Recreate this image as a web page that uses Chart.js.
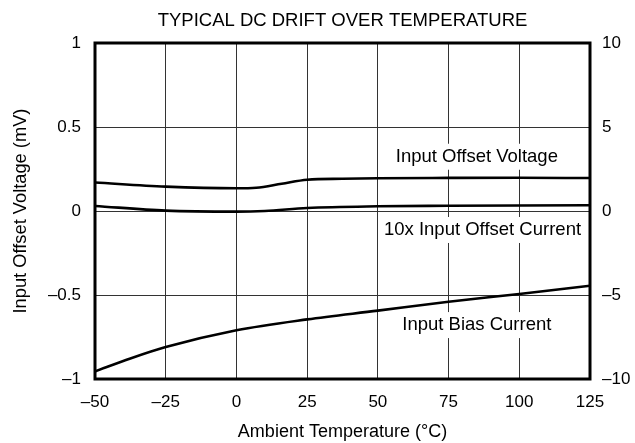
<!DOCTYPE html>
<html>
<head>
<meta charset="utf-8">
<script src="https://cdn.jsdelivr.net/npm/chart.js@4.4.1/dist/chart.umd.min.js"></script>
<style>
    html, body { margin: 0; padding: 0; background: #fff; }
    #wrap { width: 635px; height: 443px; position: relative; }
</style>
</head>
<body>
<div id="wrap"><canvas id="drift-chart"></canvas></div>
<script>
// chart data
const xTicks = [-50, -25, 0, 25, 50, 75, 100, 125];
const leftTicks = [-1, -0.5, 0, 0.5, 1];
const rightTicks = [-10, -5, 0, 5, 10];

// Input Offset Voltage (mV), left axis
const vosTemps = [-50, -25, 0, 7, 16, 25, 37.5, 50, 75, 100, 125];
const vosValues = [0.17, 0.145, 0.135, 0.138, 0.162, 0.186, 0.192, 0.195, 0.197, 0.198, 0.196];

// 10x Input Offset Current, right axis
const iosTemps = [-50, -25, 0, 10, 25, 50, 75, 100, 125];
const iosValues = [0.3, 0.02, -0.04, 0.0, 0.18, 0.28, 0.31, 0.33, 0.34];

// Input Bias Current, right axis
const ibTemps = [-50, -37.5, -25, 0, 25, 50, 75, 100, 125];
const ibValues = [-9.55, -8.78, -8.1, -7.1, -6.45, -5.93, -5.4, -4.94, -4.45];

// curve labels: text, x (°C), y (mV on left axis)
const curveLabels = [
    { text: 'Input Offset Voltage', x: 85, y: 0.323 },
    { text: '10x Input Offset Current', x: 87, y: -0.113 },
    { text: 'Input Bias Current', x: 85, y: -0.679 }
];

const chartTitle = 'TYPICAL DC DRIFT OVER TEMPERATURE';
const FONT = '"Liberation Sans", Arial, Helvetica, sans-serif';

function toPoints(xs, ys) {
    return xs.map((x, i) => ({ x: x, y: ys[i] }));
}

function dash(v) {
    return String(v).replace('-', '\u2013');
}

// white boxes behind the curve labels, drawn before the lines
const labelPlugin = {
    id: 'curveLabels',
    beforeDatasetsDraw(chart) {
        const { ctx, scales } = chart;
        ctx.save();
        ctx.font = '18.5px ' + FONT;
        curveLabels.forEach(l => {
            const px = scales.x.getPixelForValue(l.x);
            const py = scales.y.getPixelForValue(l.y);
            const w = ctx.measureText(l.text).width;
            ctx.fillStyle = '#fff';
            ctx.fillRect(px - w / 2 - 4, py - 13, w + 8, 26);
        });
        ctx.restore();
    },
    afterDatasetsDraw(chart) {
        const { ctx, scales, chartArea } = chart;
        ctx.save();
        ctx.font = '18.5px ' + FONT;
        ctx.fillStyle = '#000';
        ctx.textAlign = 'center';
        ctx.textBaseline = 'middle';
        curveLabels.forEach(l => {
            ctx.fillText(l.text, scales.x.getPixelForValue(l.x), scales.y.getPixelForValue(l.y));
        });
        // title
        ctx.fillText(chartTitle, (chartArea.left + chartArea.right) / 2, 21);
        // frame
        ctx.strokeStyle = '#000';
        ctx.lineWidth = 3;
        ctx.strokeRect(chartArea.left, chartArea.top, chartArea.right - chartArea.left, chartArea.bottom - chartArea.top);
        ctx.restore();
    }
};

const lineStyle = {
    borderColor: '#000',
    borderWidth: 2.6,
    pointRadius: 0,
    fill: false,
    cubicInterpolationMode: 'monotone'
};

new Chart(document.getElementById('drift-chart'), {
    type: 'line',
    data: {
        datasets: [
            { label: 'Input Offset Voltage', data: toPoints(vosTemps, vosValues), yAxisID: 'y', ...lineStyle },
            { label: '10x Input Offset Current', data: toPoints(iosTemps, iosValues), yAxisID: 'y1', ...lineStyle },
            { label: 'Input Bias Current', data: toPoints(ibTemps, ibValues), yAxisID: 'y1', ...lineStyle }
        ]
    },
    options: {
        responsive: true,
        maintainAspectRatio: false,
        animation: false,
        devicePixelRatio: 1,
        layout: { padding: { top: 43, left: 0, right: 0, bottom: 0 } },
        plugins: {
            legend: { display: false },
            tooltip: { enabled: false }
        },
        scales: {
            x: {
                type: 'linear',
                min: xTicks[0],
                max: xTicks[xTicks.length - 1],
                afterBuildTicks: axis => { axis.ticks = xTicks.map(v => ({ value: v })); },
                afterFit: axis => { axis.height = 64; },
                grid: { color: '#333', lineWidth: 1, drawTicks: false },
                border: { display: false },
                ticks: {
                    padding: 13,
                    color: '#000',
                    font: { family: FONT, size: 17 },
                    callback: v => dash(v)
                },
                title: {
                    display: true,
                    text: 'Ambient Temperature (\u00b0C)',
                    color: '#000',
                    font: { family: FONT, size: 18 },
                    padding: { top: 0, bottom: 0 }
                }
            },
            y: {
                position: 'left',
                min: leftTicks[0],
                max: leftTicks[leftTicks.length - 1],
                afterBuildTicks: axis => { axis.ticks = leftTicks.map(v => ({ value: v })); },
                afterFit: axis => { axis.width = 95; },
                grid: { color: '#333', lineWidth: 1, drawTicks: false },
                border: { display: false },
                ticks: {
                    padding: 14,
                    color: '#000',
                    font: { family: FONT, size: 17 },
                    callback: v => dash(v)
                },
                title: {
                    display: true,
                    text: 'Input Offset Voltage (mV)',
                    color: '#000',
                    font: { family: FONT, size: 18.3 },
                    padding: { top: 10, bottom: 0 }
                }
            },
            y1: {
                position: 'right',
                min: rightTicks[0],
                max: rightTicks[rightTicks.length - 1],
                afterBuildTicks: axis => { axis.ticks = rightTicks.map(v => ({ value: v })); },
                afterFit: axis => { axis.width = 45; },
                grid: { drawOnChartArea: false, drawTicks: false },
                border: { display: false },
                ticks: {
                    padding: 12,
                    color: '#000',
                    font: { family: FONT, size: 17 },
                    callback: v => dash(v)
                }
            }
        }
    },
    plugins: [labelPlugin]
});
</script>
</body>
</html>
